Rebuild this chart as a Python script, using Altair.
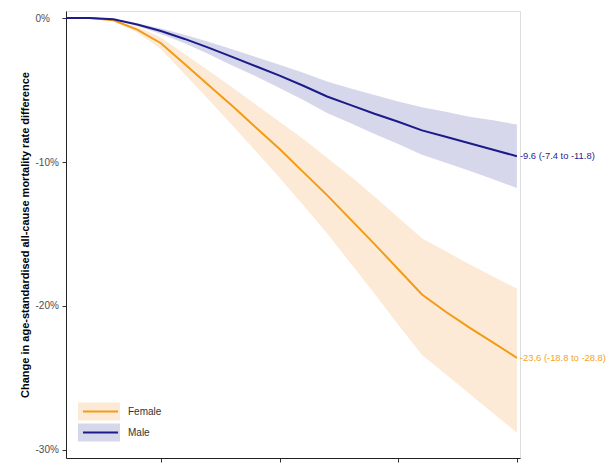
import altair as alt
import pandas as pd

years = list(range(2021, 2041))

female_mean = [0, 0, -0.15, -0.8, -1.75, -3.2, -4.65, -6.1, -7.6, -9.1, -10.7, -12.3,
               -14.0, -15.7, -17.45, -19.2, -20.4, -21.5, -22.55, -23.6]
female_upper = [0, 0, -0.12, -0.6, -1.35, -2.5, -3.65, -4.8, -6.0, -7.2, -8.4, -9.7,
                -11.0, -12.4, -13.85, -15.3, -16.2, -17.1, -17.95, -18.8]
female_lower = [0, 0, -0.2, -1.0, -2.15, -3.9, -5.65, -7.45, -9.25, -11.1, -13.0, -14.95,
                -17.05, -19.15, -21.3, -23.4, -24.75, -26.1, -27.45, -28.8]

male_mean = [0, 0, -0.08, -0.45, -0.9, -1.45, -2.05, -2.7, -3.35, -4.0, -4.7, -5.45,
             -6.05, -6.65, -7.2, -7.8, -8.25, -8.7, -9.15, -9.6]
male_upper = [0, 0, -0.06, -0.36, -0.72, -1.16, -1.64, -2.17, -2.7, -3.25, -3.8, -4.4,
              -4.9, -5.35, -5.8, -6.2, -6.5, -6.85, -7.1, -7.4]
male_lower = [0, 0, -0.1, -0.55, -1.1, -1.75, -2.5, -3.3, -4.05, -4.85, -5.7, -6.6,
              -7.3, -8.05, -8.75, -9.5, -10.05, -10.6, -11.2, -11.8]

sexes = ["Female", "Male"]
end_labels = ["-23.6 (-18.8 to -28.8)", "-9.6 (-7.4 to -11.8)"]
y_ticks = [0, -10, -20, -30]
x_ticks = [2025, 2030, 2035, 2040]

line_colors = ["#F39B14", "#1B1B8A"]
band_colors = ["#FCEAD6", "#D6D7EB"]
text_colors = ["#F4A326", "#25259A"]

rows = []
for sex, m, u, l, lab in zip(sexes, [female_mean, male_mean], [female_upper, male_upper],
                             [female_lower, male_lower], end_labels):
    for i, yr in enumerate(years):
        rows.append({"year": yr, "sex": sex, "mean": m[i], "upper": u[i], "lower": l[i],
                     "label": lab if yr == years[-1] else ""})
df = pd.DataFrame(rows)

FONT = "Liberation Sans"

x_enc = alt.X("year:Q",
              scale=alt.Scale(domain=[2021, 2040.13], nice=False, zero=False),
              axis=alt.Axis(values=x_ticks, format="d", title=None, grid=False,
                            tickSize=4, labelPadding=2, labelFontSize=10,
                            labelColor="#4D4D4D", domainColor="#222", tickColor="#333",
                            labelFont=FONT))
y_scale = alt.Scale(domain=[-30.56, 0.49], nice=False, zero=False)
y_axis = alt.Axis(values=y_ticks, labelExpr="datum.value + '%'", grid=False,
                  title="Change in age-standardised all-cause mortality rate difference",
                  titleFontSize=11, titleFontWeight="bold", titleColor="#000",
                  titleFont=FONT, titleX=-41, titleBaseline="middle",
                  tickSize=4, labelPadding=27, labelAlign="left", labelBaseline="middle",
                  labelFontSize=10, labelColor="#4D4D4D", labelFont=FONT,
                  domainColor="#222", tickColor="#333")

base = alt.Chart(df)

band = base.mark_area(opacity=1).encode(
    x=x_enc,
    y=alt.Y("lower:Q", scale=y_scale, axis=y_axis),
    y2="upper:Q",
    fill=alt.Fill("sex:N", scale=alt.Scale(domain=sexes, range=band_colors),
                  legend=alt.Legend(orient="none", legendX=12, legendY=391, title=None,
                                    symbolType="M-1,-0.43H1V0.43H-1Z", symbolSize=1764,
                                    symbolStrokeWidth=0, labelOffset=8,
                                    labelFontSize=10,
                                    labelColor="#333", labelFont=FONT, rowPadding=2,
                                    clipHeight=19, padding=0)),
)

line = base.mark_line(strokeWidth=2).encode(
    x=x_enc,
    y=alt.Y("mean:Q", scale=y_scale),
    stroke=alt.Stroke("sex:N", scale=alt.Scale(domain=sexes, range=line_colors),
                      legend=alt.Legend(orient="none", legendX=16, legendY=391, title=None,
                                        symbolType="stroke", symbolSize=1225,
                                        symbolStrokeWidth=2, labelOpacity=0,
                                        labelFontSize=10, rowPadding=2, clipHeight=19,
                                        padding=0)),
)

text = base.mark_text(align="left", baseline="middle", dx=3, fontSize=9.4, font=FONT).encode(
    x=x_enc,
    y=alt.Y("mean:Q", scale=y_scale),
    text="label:N",
    color=alt.Color("sex:N", scale=alt.Scale(domain=sexes, range=text_colors), legend=None),
).transform_filter(alt.datum.label != "")

chart = alt.layer(band, line, text).resolve_scale(
    fill="independent", stroke="independent", color="independent"
).properties(
    width=454, height=447,
    padding={"left": 58, "top": 3, "right": 86, "bottom": 5},
    autosize="none",
).configure_view(stroke=None).configure(background="white")

chart.save("out.html", embed_options={"renderer": "svg", "actions": False})
